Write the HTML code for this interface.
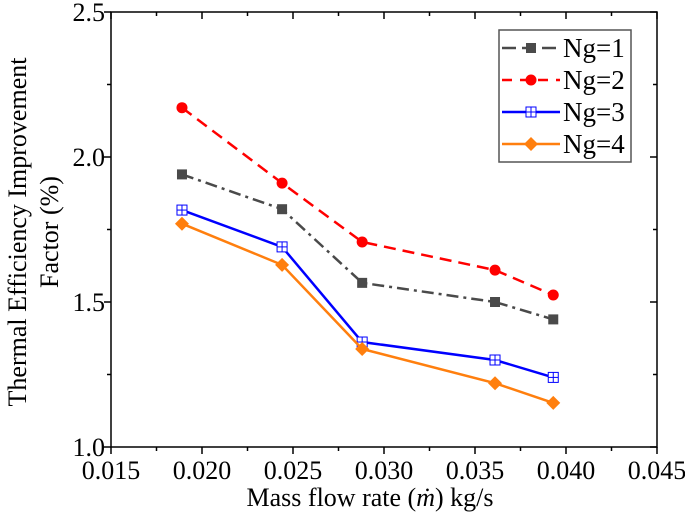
<!DOCTYPE html>
<html><head><meta charset="utf-8"><style>
body{margin:0;background:#fff}
text{font-family:"Liberation Serif","DejaVu Serif",serif !important;fill:#000}
</style></head><body>
<svg id="chart" width="685" height="523" xmlns="http://www.w3.org/2000/svg" font-family="Liberation Serif, serif"></svg>
<script>
const xTicks=[0.015,0.020,0.025,0.030,0.035,0.040,0.045];
const xTickLabels=["0.015","0.020","0.025","0.030","0.035","0.040","0.045"];
const yTicks=[1.0,1.5,2.0,2.5];
const yTickLabels=["1.0","1.5","2.0","2.5"];
const massFlow=[0.0189,0.0244,0.0288,0.0361,0.0393];
const ng1=[1.94,1.82,1.566,1.50,1.44];
const ng2=[2.17,1.91,1.707,1.61,1.524];
const ng3=[1.817,1.69,1.362,1.30,1.24];
const ng4=[1.77,1.628,1.338,1.22,1.152];
const seriesNames=["Ng=1","Ng=2","Ng=3","Ng=4"];

const svg=document.getElementById('chart');
const NS="http://www.w3.org/2000/svg";
const L=111,R=657,T=12,B=447;
const SERIF='"Liberation Serif", serif';
const sx=v=>L+(v-0.015)/(0.045-0.015)*(R-L);
const sy=v=>B-(v-1.0)/(2.5-1.0)*(B-T);
function mk(tag,attrs,parent){const e=document.createElementNS(NS,tag);for(const k in attrs)e.setAttribute(k,attrs[k]);if(tag==='text')e.setAttribute('font-family',SERIF);(parent||svg).appendChild(e);return e;}

const frame=mk('rect',{x:L,y:T,width:R-L,height:B-T,fill:'none',stroke:'#000','stroke-width':1.5});



for(let i=0;i<xTicks.length;i++){
  const x=sx(xTicks[i]);
  mk('line',{x1:x,x2:x,y1:B,y2:B+7,stroke:'#000','stroke-width':1.5});
  mk('line',{x1:x,x2:x,y1:T,y2:T+7,stroke:'#000','stroke-width':1.5});
  const t=mk('text',{x:x,y:B+32,'font-size':26,'text-anchor':'middle'});
  t.textContent=xTickLabels[i];
  
  
  if(i<xTicks.length-1){
    const xm=sx((xTicks[i]+xTicks[i+1])/2);
    mk('line',{x1:xm,x2:xm,y1:B,y2:B+4,stroke:'#000','stroke-width':1.5});
    mk('line',{x1:xm,x2:xm,y1:T,y2:T+4,stroke:'#000','stroke-width':1.5});
  }
}
for(let i=0;i<yTicks.length;i++){
  const y=sy(yTicks[i]);
  mk('line',{x1:L-7,x2:L,y1:y,y2:y,stroke:'#000','stroke-width':1.5});
  mk('line',{x1:R-7,x2:R,y1:y,y2:y,stroke:'#000','stroke-width':1.5});
  const t=mk('text',{x:L-6,y:y+9,'font-size':26,'text-anchor':'end'});
  t.textContent=yTickLabels[i];
  
  
  if(i<yTicks.length-1){
    const ym=sy((yTicks[i]+yTicks[i+1])/2);
    mk('line',{x1:L-4,x2:L,y1:ym,y2:ym,stroke:'#000','stroke-width':1.5});
    mk('line',{x1:R-4,x2:R,y1:ym,y2:ym,stroke:'#000','stroke-width':1.5});
  }
}

const xt=mk('text',{x:370,y:506,'font-size':26,'text-anchor':'middle'});
xt.innerHTML='Mass flow rate (<tspan font-style="italic">ṁ</tspan>) kg/s';


const yt=mk('text',{transform:'translate(26,232) rotate(-90)','font-size':26,'text-anchor':'middle'});
yt.textContent='Thermal Efficiency Improvement';


const yt2=mk('text',{transform:'translate(58,232) rotate(-90)','font-size':26,'text-anchor':'middle'});
yt2.textContent='Factor (%)';



const styles=[
 {c:'#4a4a4a',dash:'12,5,3,5',m:'square'},
 {c:'#ff0000',dash:'12,7',m:'circle'},
 {c:'#0000ff',dash:'',m:'gridsq'},
 {c:'#ff7f0e',dash:'',m:'diamond'}];
const allSeries=[ng1,ng2,ng3,ng4];

function marker(g,type,x,y,c){
  if(type==='square')mk('rect',{x:x-5,y:y-5,width:10,height:10,fill:c},g);
  else if(type==='circle')mk('circle',{cx:x,cy:y,r:5.5,fill:c},g);
  else if(type==='diamond')mk('polygon',{points:`${x},${y-7} ${x+7},${y} ${x},${y+7} ${x-7},${y}`,fill:c},g);
  else{mk('rect',{x:x-5,y:y-5,width:10,height:10,fill:'#fff',stroke:c,'stroke-width':1},g);
    mk('line',{x1:x,x2:x,y1:y-5,y2:y+5,stroke:c,'stroke-width':1},g);
    mk('line',{x1:x-5,x2:x+5,y1:y,y2:y,stroke:c,'stroke-width':1},g);}
}

allSeries.forEach((vals,si)=>{
  const st=styles[si];
  const g=mk('g',{});
  
  
  const pts=vals.map((v,i)=>sx(massFlow[i])+','+sy(v)).join(' ');
  mk('polyline',{points:pts,fill:'none',stroke:st.c,'stroke-width':2.5,'stroke-dasharray':st.dash},g);
  vals.forEach((v,i)=>marker(g,st.m,sx(massFlow[i]),sy(v),st.c));
});

const lg=mk('g',{});


mk('rect',{x:499,y:30,width:132,height:132,fill:'#fff',stroke:'#555','stroke-width':1.5},lg);
seriesNames.forEach((n,i)=>{
  const st=styles[i];const y=48+i*32;
  const e=mk('g',{},lg);
  
  
  mk('line',{x1:502,x2:560,y1:y,y2:y,stroke:st.c,'stroke-width':2.5,'stroke-dasharray':st.dash? (i===0?'14,6':'10,8'):''},e);
  marker(e,st.m,531,y,st.c);
  const t=mk('text',{x:563,y:y+9,'font-size':27},e);
  t.textContent=n;
});
</script>
</body></html>
